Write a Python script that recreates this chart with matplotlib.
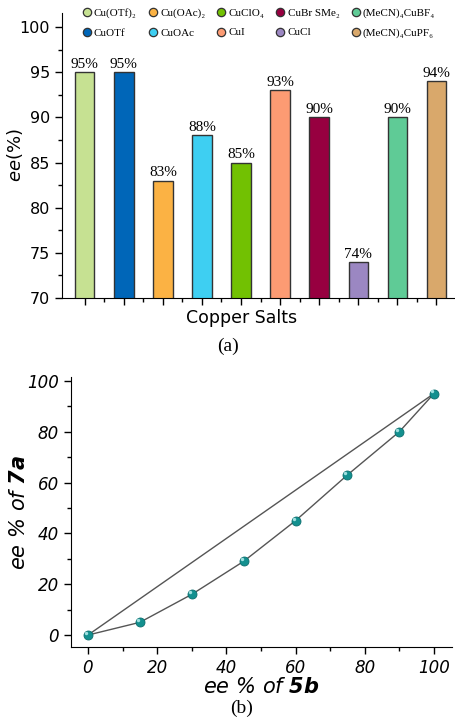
import matplotlib
matplotlib.use("Agg")
import matplotlib.pyplot as plt
from matplotlib.lines import Line2D
from matplotlib.ticker import MultipleLocator
import numpy as np

plt.rcParams['mathtext.fontset'] = 'custom'
plt.rcParams['mathtext.it'] = 'DejaVu Sans:italic'
plt.rcParams['mathtext.bf'] = 'DejaVu Sans:bold:italic'
plt.rcParams['mathtext.rm'] = 'DejaVu Sans:italic'

# ---- data (a)
salts = ["Cu(OTf)₂", "CuOTf", "Cu(OAc)₂", "CuOAc", "CuClO₄", "CuI",
         "CuBr SMe₂", "CuCl", "(MeCN)₄CuBF₄", "(MeCN)₄CuPF₆"]
ee_values = [95, 95, 83, 88, 85, 93, 90, 74, 90, 94]
bar_colors = ["#c6e192", "#0066b8", "#fbb244", "#3ecff2", "#72c102",
              "#fc9b73", "#970040", "#9b87c2", "#5fcb96", "#d9a86b"]

# ---- data (b)
ee_5b = [0, 15, 30, 45, 60, 75, 90, 100]
ee_7a = [0, 5, 16, 29, 45, 63, 80, 95]
linear_x = [0, 100]
linear_y = [0, 95]

fig = plt.figure(figsize=(4.56, 7.2), dpi=100)
serif = ['Liberation Serif', 'DejaVu Serif']

# ---------- (a)
ax1 = fig.add_axes([62/456, 1-298/720, 1-62/456, (298-12.7)/720])
x = np.arange(len(salts))
ax1.bar(x, ee_values, width=0.5, color=bar_colors, edgecolor="#333333",
        linewidth=1.0)
ax1.set_ylim(70, 101.6)
ax1.set_xlim(-0.58, 9.44)
for xi, v in zip(x, ee_values):
    ax1.text(xi, v + 0.15, f"{v}%", ha="center", va="bottom",
             fontsize=11, family=serif)
ax1.spines['top'].set_visible(False)
ax1.spines['right'].set_visible(False)
ax1.yaxis.set_major_locator(MultipleLocator(5))
ax1.yaxis.set_minor_locator(MultipleLocator(2.5))
ax1.set_xticks(x)
ax1.set_xticklabels([])
ax1.set_xticks(x + 0.5, minor=True)
ax1.tick_params(axis='both', which='major', direction='out', length=5, width=1, labelsize=11.5)
ax1.tick_params(axis='both', which='minor', direction='out', length=3, width=1)
ax1.set_ylabel(r"$\mathit{ee}$(%)", fontsize=13)
ax1.yaxis.set_label_coords(-0.095, 0.5)
handles = [Line2D([], [], marker='o', linestyle='none', markersize=6,
                  markerfacecolor=c, markeredgecolor='#333333', markeredgewidth=0.9)
           for c in bar_colors]
ax1.legend(handles, salts, ncol=5, loc='upper left',
           bbox_to_anchor=(0.05, 1.015), frameon=False,
           prop={'family': serif, 'size': 8}, handletextpad=0.2,
           handlelength=0.9, columnspacing=1.0, labelspacing=0.85,
           borderaxespad=0.0, borderpad=0.0)
fig.text(0.53, 1-318/720, "Copper Salts", ha="center", va="center", fontsize=12.5)
fig.text(0.5, 1-346/720, "(a)", ha="center", va="center", fontsize=14, family=serif)

# ---------- (b)
ax2 = fig.add_axes([71/456, 1-647/720, (452-71)/456, (647-377)/720])
ax2.plot(linear_x, linear_y, color="#555555", linewidth=1.0, zorder=1)
ax2.plot(ee_5b, ee_7a, color="#555555", linewidth=1.0, zorder=1)
ax2.scatter(ee_5b, ee_7a, s=42, color="#13908f", edgecolor="#0c6e6e",
            linewidth=0.6, zorder=3)
ax2.scatter(np.array(ee_5b) - 0.6, np.array(ee_7a) + 0.8, s=6, color="#9fe0e0",
            zorder=4, linewidth=0)
ax2.set_xlim(-4.9, 105.2)
ax2.set_ylim(-4.7, 101.5)
ax2.spines['top'].set_visible(False)
ax2.spines['right'].set_visible(False)
ax2.xaxis.set_major_locator(MultipleLocator(20))
ax2.xaxis.set_minor_locator(MultipleLocator(10))
ax2.yaxis.set_major_locator(MultipleLocator(20))
ax2.yaxis.set_minor_locator(MultipleLocator(10))
ax2.tick_params(axis='both', which='major', direction='out', length=5, width=1, labelsize=12)
ax2.tick_params(axis='both', which='minor', direction='out', length=3, width=1)
for lab in ax2.get_xticklabels() + ax2.get_yticklabels():
    lab.set_fontstyle('italic')
ax2.set_xlabel(r"$\mathit{ee\ \%\ of}\ \mathbf{5b}$", fontsize=15, labelpad=0)
ax2.set_ylabel(r"$\mathit{ee\ \%\ of}\ \mathbf{7a}$", fontsize=15)
ax2.yaxis.set_label_coords(-0.11, 0.5)
fig.text(0.53, 1-708/720, "(b)", ha="center", va="center", fontsize=14, family=serif)

fig.savefig("out.png", dpi=100)
